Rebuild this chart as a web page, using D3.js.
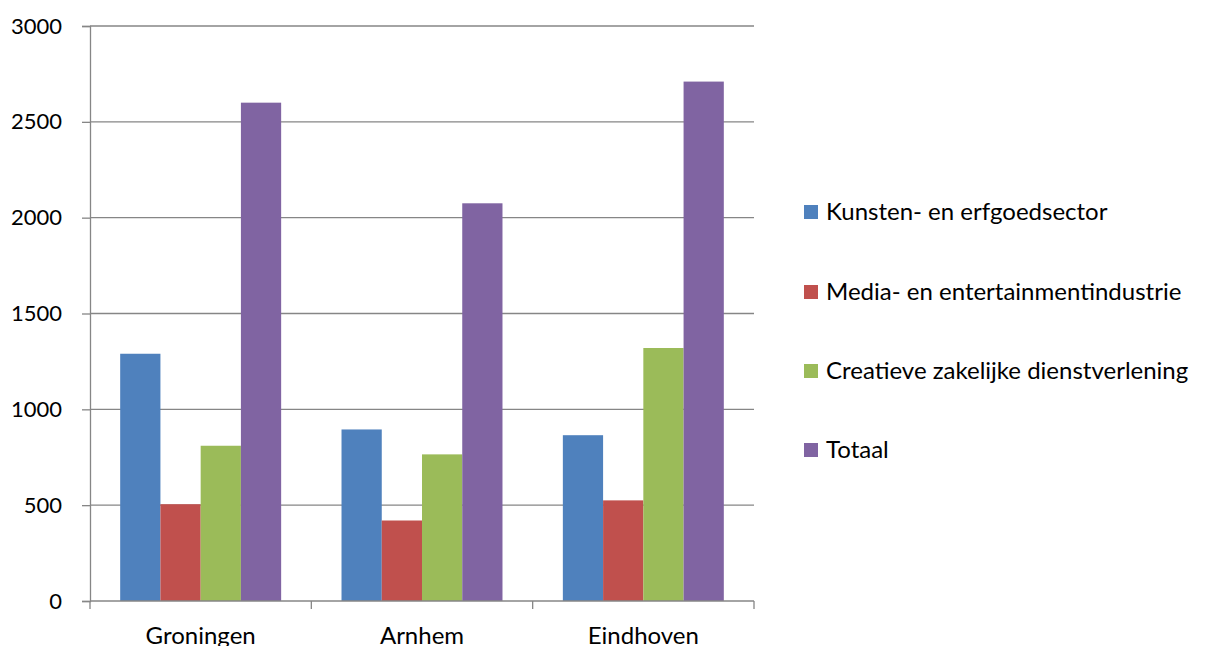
<!DOCTYPE html>
<html>
<head>
<meta charset="utf-8">
<script src="https://cdn.jsdelivr.net/npm/d3@7"></script>
<style>
  html, body { margin: 0; padding: 0; background: #fff; }
  svg { display: block; font-family: Lato, "Open Sans", sans-serif; }
</style>
</head>
<body>
<svg id="chart" width="1209" height="646"></svg>
<script>
// Cities on the category axis
const categories = ["Groningen", "Arnhem", "Eindhoven"];
// Series names (legend order)
const seriesNames = [
  "Kunsten- en erfgoedsector",
  "Media- en entertainmentindustrie",
  "Creatieve zakelijke dienstverlening",
  "Totaal"
];
// Values per series, one per city
const kunsten  = [1290, 895, 865];
const media    = [505, 420, 525];
const creatief = [810, 765, 1320];
const totaal   = [2600, 2075, 2710];
const seriesValues = [kunsten, media, creatief, totaal];
const seriesColors = ["#4F81BD", "#C0504D", "#9BBB59", "#8064A2"];
const yTicks = [0, 500, 1000, 1500, 2000, 2500, 3000];

const svg = d3.select("#chart");
const plot = { left: 90, right: 754, top: 26, bottom: 601 };
const axisColor = "#868686";
const fontFamily = "Lato, 'Open Sans', sans-serif";

const x0 = d3.scaleBand().domain(categories).range([plot.left, plot.right]).paddingInner(0).paddingOuter(0);
// 150% gap: 4 bars + 1.5 bar widths of gap per category
const groupFrac = 4 / 5.5;
const x1 = d3.scaleBand().domain(d3.range(seriesNames.length))
  .range([0, x0.bandwidth() * groupFrac]);
const y = d3.scaleLinear().domain([0, 3000]).range([plot.bottom, plot.top]);

// Horizontal gridlines
svg.append("g").selectAll("line").data(yTicks.filter(t => t > 0)).join("line")
  .attr("x1", plot.left).attr("x2", plot.right)
  .attr("y1", d => y(d)).attr("y2", d => y(d))
  .attr("stroke", axisColor).attr("stroke-width", 1.3);

// Bars
const offset = (x0.bandwidth() * (1 - groupFrac)) / 2;
seriesValues.forEach((vals, si) => {
  svg.append("g").selectAll("rect").data(vals).join("rect")
    .attr("x", (d, i) => x0(categories[i]) + offset + x1(si))
    .attr("width", x1.bandwidth())
    .attr("y", d => y(d))
    .attr("height", d => y(0) - y(d))
    .attr("fill", seriesColors[si]);
});

// Y axis
const yAxis = d3.axisLeft(y).tickValues(yTicks).tickSize(8).tickPadding(20).tickFormat(d3.format("d"));
const gy = svg.append("g").attr("transform", `translate(${plot.left},0)`).call(yAxis);
gy.select(".domain").attr("stroke", axisColor).attr("stroke-width", 1.3);
gy.selectAll(".tick line").attr("stroke", axisColor).attr("stroke-width", 1.3);
gy.selectAll(".tick text").attr("font-size", 22).attr("fill", "#000")
  .attr("font-family", fontFamily);

// X axis
const xAxis = d3.axisBottom(x0).tickSize(0).tickPadding(0);
const gx = svg.append("g").attr("transform", `translate(0,${plot.bottom})`).call(xAxis);
gx.select(".domain").remove();
gx.append("line").attr("x1", plot.left).attr("x2", plot.right).attr("y1", 0).attr("y2", 0)
  .attr("stroke", axisColor).attr("stroke-width", 1.3);
const boundaries = categories.map(c => x0(c)).concat([plot.right]);
gx.selectAll(".bound").data(boundaries).join("line").attr("class", "bound")
  .attr("x1", d => d).attr("x2", d => d).attr("y1", 0).attr("y2", 8)
  .attr("stroke", axisColor).attr("stroke-width", 1.3);
gx.selectAll(".tick text").attr("font-size", 24).attr("fill", "#000")
  .attr("dy", 0).attr("y", 43)
  .attr("font-family", fontFamily);

// Legend
const legend = svg.append("g");
const legendY = [212, 292, 371, 450];
seriesNames.forEach((name, i) => {
  legend.append("rect").attr("x", 804).attr("y", legendY[i] - 7).attr("width", 14).attr("height", 14)
    .attr("fill", seriesColors[i]);
  legend.append("text").attr("x", 826).attr("y", legendY[i]).attr("dy", "0.35em")
    .attr("font-size", 24).attr("fill", "#000").text(name);
});
</script>
</body>
</html>
